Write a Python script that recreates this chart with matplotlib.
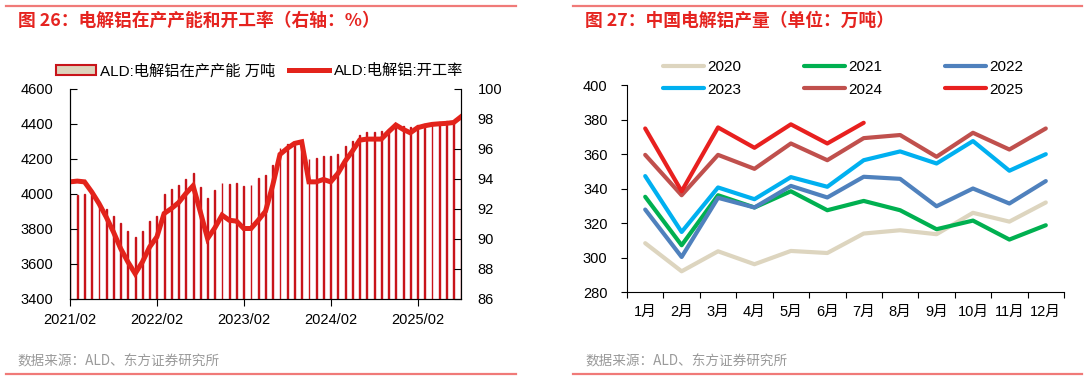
import numpy as np
import pandas as pd
import matplotlib
matplotlib.use("Agg")
from matplotlib import pyplot as plt
from matplotlib.patches import Patch
from matplotlib.lines import Line2D

plt.rcParams["font.family"] = ["Liberation Sans", "Noto Sans CJK SC", "DejaVu Sans"]

# ---- left chart: capacity (bars) and operating rate (line), monthly 2021/02 - 2025/08
months = pd.date_range("2021-02-01", periods=55, freq="MS").strftime("%Y/%m").tolist()
capacity = [
    4000, 3992, 3998, 3992, 3954, 3916, 3874, 3836, 3787, 3754, 3790, 3844,
    3872, 4002, 4031, 4050, 4088, 4120, 4040, 3977, 4023, 4065, 4055, 4063,
    4046, 4050, 4092, 4111, 4168, 4265, 4284, 4297, 4300, 4198, 4206, 4215,
    4217, 4231, 4272, 4303, 4339, 4352, 4354, 4358, 4373, 4392, 4389, 4383,
    4396, 4402, 4412, 4412, 4415, 4419, 4440,
]
rate = [
    93.81, 93.86, 93.81, 93.14, 92.37, 91.47, 90.47, 89.36, 88.47, 87.69, 88.47, 89.47,
    90.14, 91.70, 92.03, 92.43, 93.03, 93.55, 91.81, 90.03, 90.74, 91.59, 91.25, 91.19,
    90.70, 90.70, 91.25, 91.85, 93.59, 95.64, 96.04, 96.37, 96.48, 93.81, 93.81, 93.97,
    93.81, 94.37, 95.19, 95.86, 96.59, 96.66, 96.66, 96.66, 97.15, 97.60, 97.31, 97.08,
    97.42, 97.55, 97.64, 97.68, 97.71, 97.77, 98.15,
]
left_ticks = ["2021/02", "2022/02", "2023/02", "2024/02", "2025/02"]

# ---- right chart: monthly production by year (万吨)
month_names = ["1月", "2月", "3月", "4月", "5月", "6月", "7月", "8月", "9月", "10月", "11月", "12月"]
prod_2020 = [308.3, 292.0, 303.6, 296.1, 303.8, 302.6, 313.9, 315.8, 313.5, 325.9, 320.8, 331.9]
prod_2021 = [335.2, 307.1, 336.1, 329.0, 338.4, 327.4, 332.8, 327.4, 316.4, 321.4, 310.4, 318.7]
prod_2022 = [327.8, 300.3, 334.6, 329.0, 341.5, 334.8, 346.8, 345.6, 329.7, 340.0, 331.3, 344.3]
prod_2023 = [347.2, 314.8, 340.6, 333.8, 346.6, 341.0, 356.4, 361.5, 354.5, 367.5, 350.3, 359.9]
prod_2024 = [359.5, 336.1, 359.5, 351.4, 366.1, 356.4, 369.2, 371.0, 358.4, 372.3, 362.6, 374.8]
prod_2025 = [374.8, 338.4, 375.4, 363.6, 377.2, 366.1, 378.1]

W, H = 1089, 379
fig = plt.figure(figsize=(W / 100, H / 100), dpi=100)


def fx(px):
    return px / W


def fy(py):
    return 1 - py / H


red = "#e3231b"
title_red = "#e52420"
line_pink = "#f07a78"

# ================= left panel =================
ax1 = fig.add_axes([fx(70), fy(299), fx(461) - fx(70), fy(89) - fy(299)])
x = np.arange(len(months))
ax1.bar(x, capacity, width=0.12, facecolor="#ddd3bc", edgecolor="#c8141a", linewidth=1.0)
ax1.set_xlim(0, len(months) - 1)
ax1.set_ylim(3400, 4600)
ax1.set_yticks(range(3400, 4601, 200))
ax1.set_xticks([months.index(t) for t in left_ticks])
ax1.set_xticklabels(left_ticks)
ax1.spines["top"].set_visible(False)
ax1.tick_params(axis="y", direction="in", length=5, pad=12, labelsize=10.5)
ax1.tick_params(axis="x", direction="out", length=5, pad=5, labelsize=10.5)

ax2 = ax1.twinx()
ax2.plot(x, rate, color=red, lw=3.6, solid_joinstyle="miter")
ax2.set_ylim(86, 100)
ax2.set_yticks(range(86, 101, 2))
ax2.spines["top"].set_visible(False)
ax2.tick_params(axis="y", direction="in", length=5, pad=12, labelsize=10.5)

fig.legend(
    [Patch(facecolor="#ddd3bc", edgecolor="#c8141a", linewidth=1.5),
     Line2D([], [], color=red, lw=3.6)],
    ["ALD:电解铝在产产能 万吨", "ALD:电解铝:开工率"],
    loc="center left", bbox_to_anchor=(fx(56), fy(71)), ncol=2, frameon=False,
    fontsize=11, handlelength=2.6, handleheight=0.6, handletextpad=0.3,
    columnspacing=0.9, borderpad=0, borderaxespad=0,
)

# ================= right panel =================
ax3 = fig.add_axes([fx(627), fy(292), fx(1064) - fx(627), fy(85) - fy(292)])
xc = np.arange(12) + 0.5
series = [
    ("2020", prod_2020, "#ddd5bf"),
    ("2021", prod_2021, "#00b050"),
    ("2022", prod_2022, "#4f81bd"),
    ("2023", prod_2023, "#00b0f0"),
    ("2024", prod_2024, "#c0504d"),
    ("2025", prod_2025, "#e8201f"),
]
colors = {}
for name, vals, col in series:
    ax3.plot(xc[: len(vals)], vals, color=col, lw=3.0, solid_capstyle="round")
    colors[name] = col
ax3.set_xlim(0, 12)
ax3.set_ylim(280, 400)
ax3.set_yticks(range(280, 401, 20))
ax3.set_xticks(range(13))
ax3.set_xticklabels([])
ax3.set_xticks(xc, minor=True)
ax3.set_xticklabels(month_names, minor=True)
ax3.tick_params(axis="x", which="major", direction="out", length=4)
ax3.tick_params(axis="x", which="minor", length=0, pad=9, labelsize=10.5)
ax3.tick_params(axis="y", direction="out", length=4, pad=10, labelsize=10.5)
ax3.spines["top"].set_visible(False)
ax3.spines["right"].set_visible(False)

order = ["2020", "2023", "2021", "2024", "2022", "2025"]
leg_handles = [Line2D([], [], color=colors[n], lw=3.0, solid_capstyle="round") for n in order]
fig.legend(
    leg_handles, order, loc="center left", bbox_to_anchor=(fx(663), fy(78.5)),
    ncol=3, frameon=False, fontsize=11, handlelength=2.7, handletextpad=0.2,
    columnspacing=4.1, labelspacing=0.55, borderpad=0, borderaxespad=0,
)

# ================= titles, rules, sources =================
fig.text(fx(18), fy(21), "图 26：电解铝在产产能和开工率（右轴：%）", color=title_red,
         fontsize=12.8, fontweight="bold", va="center", family=["Noto Sans CJK SC"])
fig.text(fx(585), fy(21), "图 27：中国电解铝产量（单位：万吨）", color=title_red,
         fontsize=12.8, fontweight="bold", va="center", family=["Noto Sans CJK SC"])

for x0, x1 in [(6, 516), (573, 1082)]:
    fig.add_artist(Line2D([fx(x0), fx(x1)], [fy(6), fy(6)], color=line_pink, lw=1.6))
    fig.add_artist(Line2D([fx(x0), fx(x1)], [fy(374), fy(374)], color=line_pink, lw=1.6))

for x0 in (17, 585):
    fig.text(fx(x0), fy(361), "数据来源：ALD、东方证券研究所", color="#9a9a9a",
             fontsize=9.8, va="center", family=["Noto Sans CJK SC"])

fig.savefig("out.png", dpi=100)
